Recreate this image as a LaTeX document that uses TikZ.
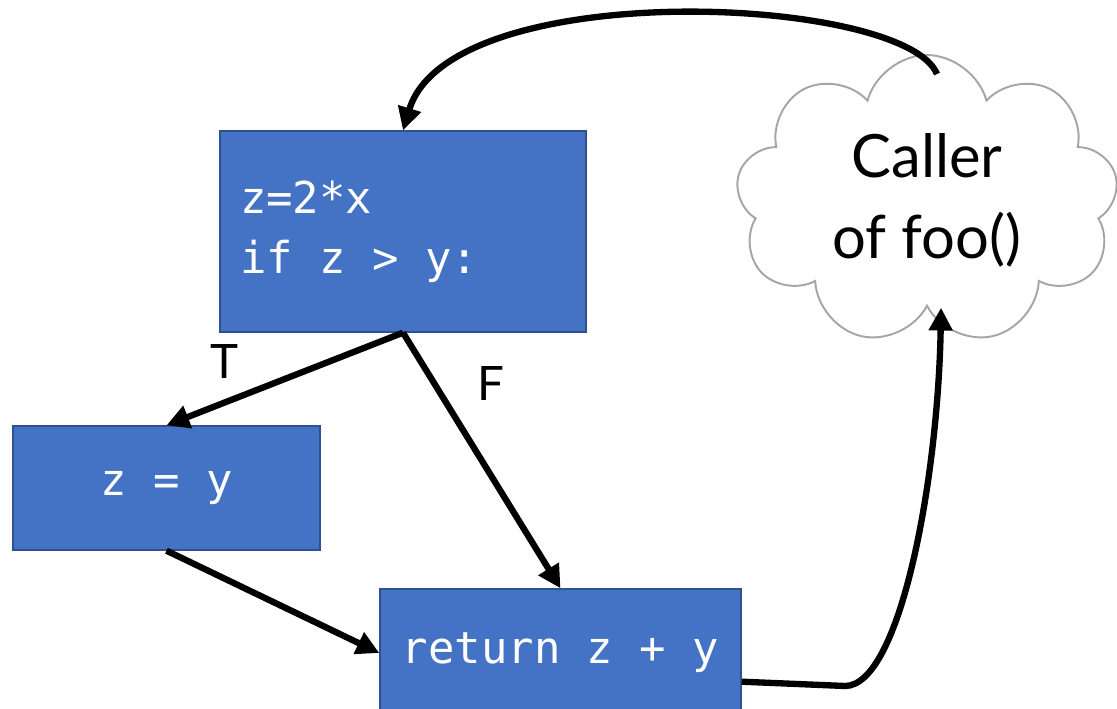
\documentclass[tikz,border=0pt]{standalone}
\usepackage{fontspec}
\setmainfont{Lato}
\setmonofont{DejaVu Sans Mono}
\usetikzlibrary{arrows.meta,shapes.symbols}
\definecolor{BoxBlue}{HTML}{4472C4}
\definecolor{BoxEdge}{HTML}{2F528F}
\definecolor{CloudGray}{HTML}{A5A5A5}

\begin{document}
\begin{tikzpicture}[x=0.02cm,y=-0.02cm,every node/.style={text=black},
  block/.style={draw=BoxEdge,fill=BoxBlue,line width=0.8pt,text=white,font=\ttfamily\fontsize{25}{34}\selectfont},
  flow/.style={line width=3.6pt,-{Triangle[length=13pt,width=13pt]}},
  branch/.style={inner sep=0,font=\fontsize{27}{32}\selectfont}]
\useasboundingbox (0,0) rectangle (1117,709);
\node[block,minimum width=7.32cm,minimum height=4.02cm,text width=6.52cm,inner xsep=0.4cm,align=flush left] (cond) at (403,231.5) {z=2*x\\if z > y:};
\node[block,minimum width=6.14cm,minimum height=2.48cm] (assign) at (166.5,488) {z = y};
\node[block,minimum width=7.22cm,minimum height=2.56cm] (ret) at (560.5,653) {return z + y};
\node[cloud,draw=CloudGray,line width=1.1pt,cloud puffs=9,aspect=1.4,minimum width=7.65cm,minimum height=5.8cm,align=center,font=\fontsize{34}{46}\selectfont] (caller) at (927,200) {Caller\\of foo()};
\draw[flow] ([shift={(10,20)}]caller.north) .. controls (905,-5) and (450,-25) .. (cond.north);
\draw[flow] (cond.south) -- node[branch,pos=0.755,above=0.42cm] {T} (assign.north);
\draw[flow] (cond.south) -- node[branch,pos=0.2,right=0.8cm] {F} (ret.north);
\draw[flow] (assign.south) -- (ret.west);
\draw[flow] (ret.-9) -- (845,686) .. controls (900,686) and (938,480) .. ([xshift=8]caller.south);
\end{tikzpicture}
\end{document}
